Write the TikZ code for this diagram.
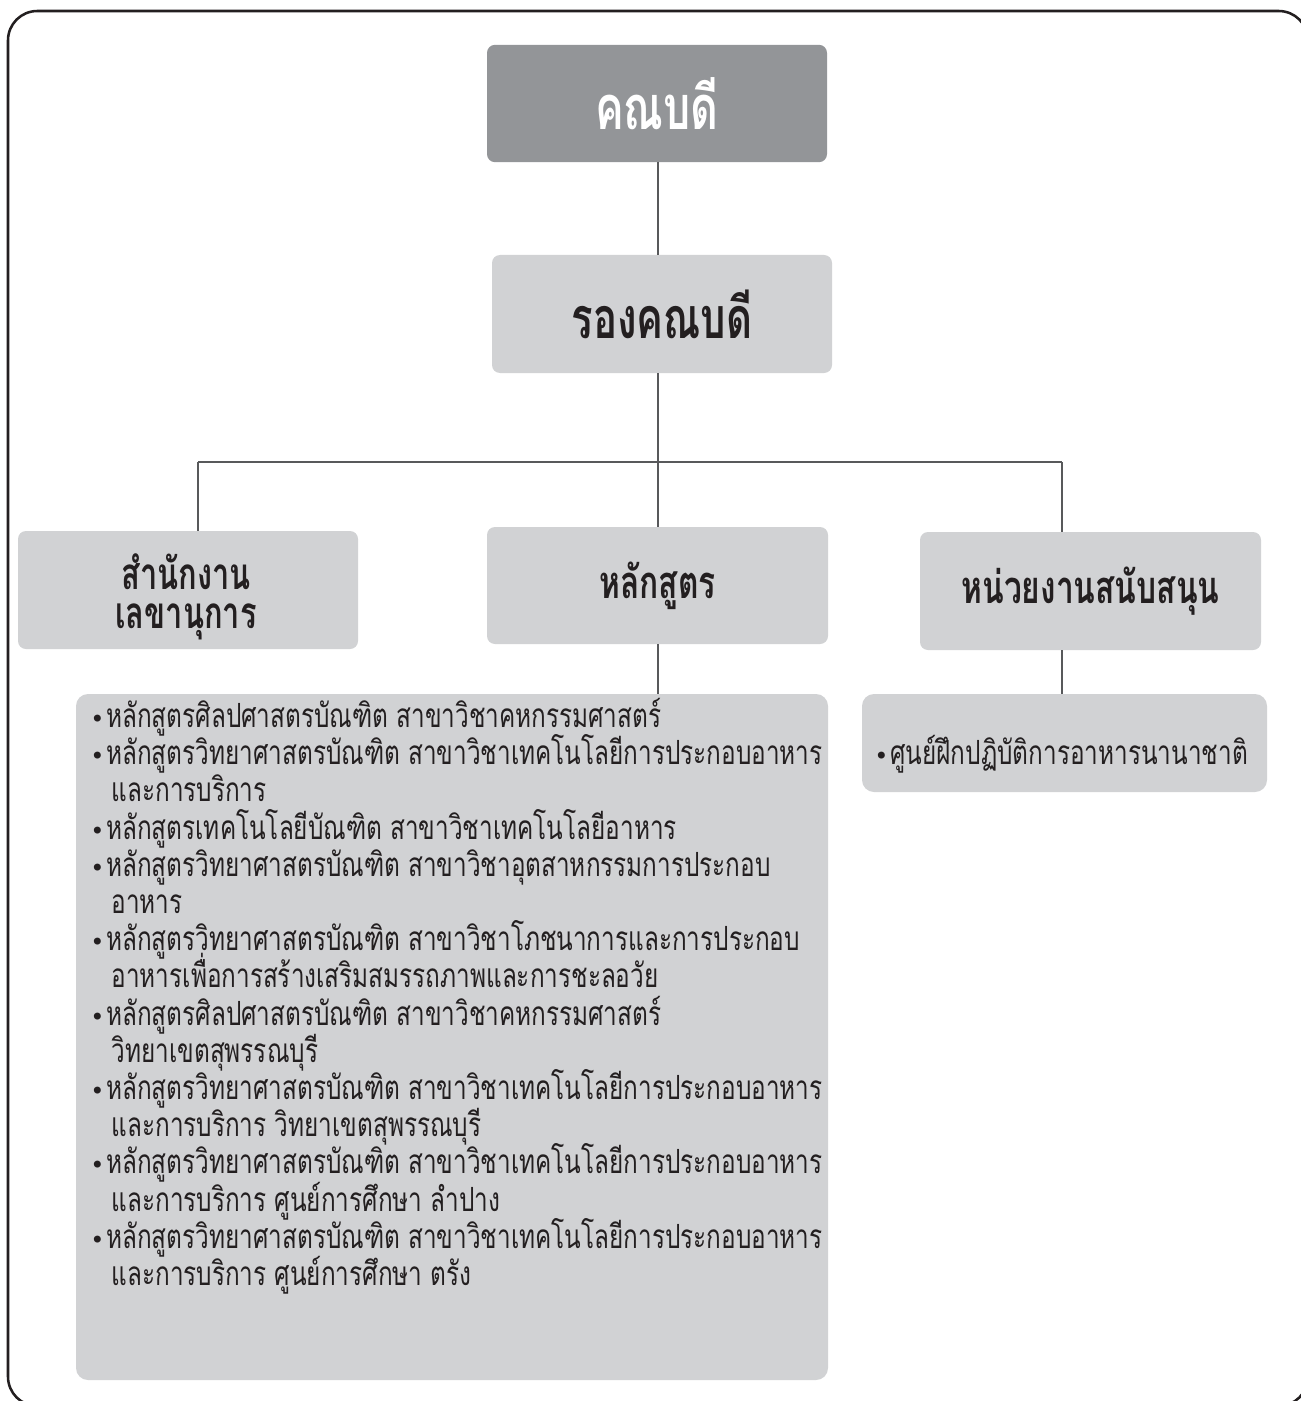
\documentclass[tikz,border=0pt]{standalone}
\usepackage{fontspec}
\newfontfamily\thlist[Script=Thai,FakeStretch=0.73]{Loma}
\newfontfamily\thhead[Script=Thai,FakeStretch=0.7]{Loma}
\newfontfamily\dvs{DejaVu Sans}
\definecolor{darkbox}{HTML}{939598}
\definecolor{lightbox}{HTML}{D1D2D4}
\definecolor{linec}{HTML}{58595B}
\definecolor{ink}{HTML}{231F20}
\newcommand{\bl}{\makebox[12pt][l]{\dvs\fontsize{18pt}{18pt}\selectfont •}}
\newcommand{\ind}{\hspace*{16pt}}
\newcommand{\nolsk}{\lineskiplimit=-100pt\relax}
\begin{document}
\begin{tikzpicture}[x=0.75pt,y=-0.75pt,
  boxbase/.style={rounded corners=6pt, inner sep=0pt, align=center},
  headbox/.style={boxbase, fill=lightbox, text=ink, font=\thhead\bfseries\fontsize{34pt}{28pt}\selectfont\nolsk},
  vicebox/.style={boxbase, fill=lightbox, text=ink, font=\thhead\bfseries\fontsize{43pt}{43pt}\selectfont},
  deanbox/.style={boxbase, fill=darkbox, text=white, font=\thhead\bfseries\fontsize{46pt}{46pt}\selectfont},
  listbox/.style={rounded corners=9pt, fill=lightbox, inner sep=0pt},
  listtext/.style={inner sep=0pt, align=left, text=ink, font=\thlist\fontsize{25pt}{27.9pt}\selectfont\nolsk},
  conn/.style={draw=linec, line width=1.5pt}
]
\useasboundingbox (0,0) rectangle (1301,1401);
\fill[white] (0,0) rectangle (1301,1401);
\draw[ink, line width=1.9pt, rounded corners=22pt] (8,11) rectangle (1308,1406);

% boxes
\node[deanbox, minimum width=255pt, minimum height=88pt] (dean) at (657,103.5) {คณบดี};
\node[vicebox, minimum width=255pt, minimum height=88.5pt] (vice) at (662,314) {รองคณบดี};
\node[headbox, minimum width=255pt, minimum height=88.5pt] (sec) at (188,590) {};
\node[inner sep=0pt, align=center, text=ink, font=\thhead\bfseries\fontsize{33pt}{28pt}\selectfont\nolsk] (sectext) at (186,597) {สำนักงาน\\[1pt]เลขานุการ};
\node[headbox, minimum width=255.75pt, minimum height=87.75pt] (cur) at (657.5,585.5) {หลักสูตร};
\node[headbox, minimum width=255.75pt, minimum height=88.5pt] (sup) at (1090.5,591) {หน่วยงานสนับสนุน};
\node[listbox, minimum width=564pt, minimum height=514.5pt] (curlist) at (452,1037) {};
\node[listbox, minimum width=303.75pt, minimum height=73.5pt] (suplist) at (1064.5,743) {};

% connectors
\coordinate (jc) at (658,462);
\coordinate (jl) at (198,462);
\coordinate (jr) at (1061.5,462);
\draw[conn] (dean.south -| jc) -- (vice.north -| jc);
\draw[conn] (vice.south -| jc) -- (jc);
\draw[conn] (jl) -- (jr);
\draw[conn] (jl) -- (sec.north -| jl);
\draw[conn] (jc) -- (cur.north -| jc);
\draw[conn] (jr) -- (sup.north -| jr);
\draw[conn] (cur.south -| jc) -- (curlist.north -| jc);
\draw[conn] (sup.south -| jr) -- (suplist.north -| jr);

% list texts
\node[listtext, anchor=north west] (curtext) at (90,698) {%
\bl หลักสูตรศิลปศาสตรบัณฑิต สาขาวิชาคหกรรมศาสตร์\\
\bl หลักสูตรวิทยาศาสตรบัณฑิต สาขาวิชาเทคโนโลยีการประกอบอาหาร\\
\ind และการบริการ\\
\bl หลักสูตรเทคโนโลยีบัณฑิต สาขาวิชาเทคโนโลยีอาหาร\\
\bl หลักสูตรวิทยาศาสตรบัณฑิต สาขาวิชาอุตสาหกรรมการประกอบ\\
\ind อาหาร\\
\bl หลักสูตรวิทยาศาสตรบัณฑิต สาขาวิชาโภชนาการและการประกอบ\\
\ind อาหารเพื่อการสร้างเสริมสมรรถภาพและการชะลอวัย\\
\bl หลักสูตรศิลปศาสตรบัณฑิต สาขาวิชาคหกรรมศาสตร์\\
\ind วิทยาเขตสุพรรณบุรี\\
\bl หลักสูตรวิทยาศาสตรบัณฑิต สาขาวิชาเทคโนโลยีการประกอบอาหาร\\
\ind และการบริการ วิทยาเขตสุพรรณบุรี\\
\bl หลักสูตรวิทยาศาสตรบัณฑิต สาขาวิชาเทคโนโลยีการประกอบอาหาร\\
\ind และการบริการ ศูนย์การศึกษา ลำปาง\\
\bl หลักสูตรวิทยาศาสตรบัณฑิต สาขาวิชาเทคโนโลยีการประกอบอาหาร\\
\ind และการบริการ ศูนย์การศึกษา ตรัง};
\node[listtext, anchor=west] (suptext) at (874,754) {\bl ศูนย์ฝึกปฏิบัติการอาหารนานาชาติ};
\end{tikzpicture}
\end{document}
